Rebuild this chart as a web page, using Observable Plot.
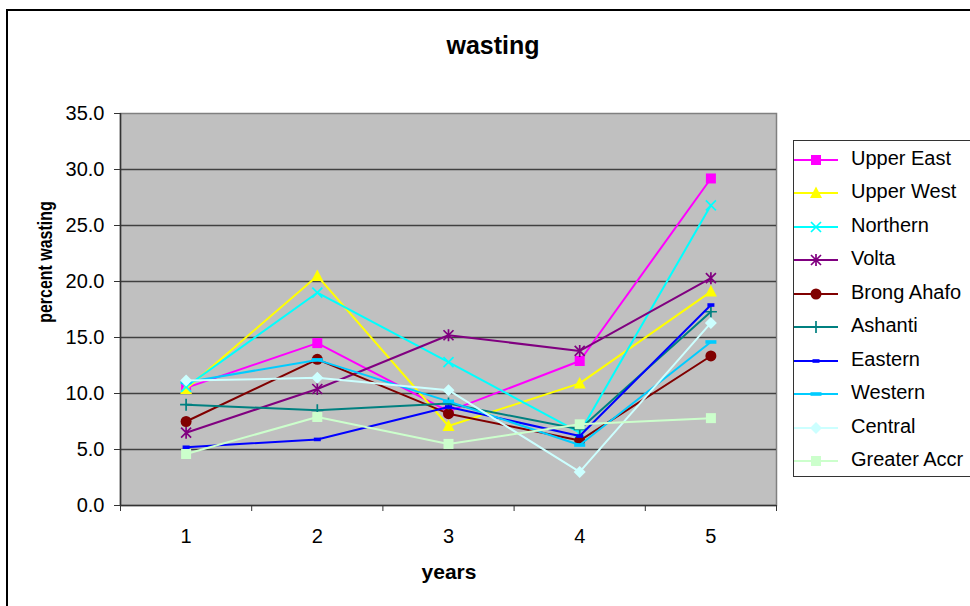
<!DOCTYPE html>
<html><head><meta charset="utf-8">
<script src="https://cdn.jsdelivr.net/npm/d3@7"></script>
<script src="https://cdn.jsdelivr.net/npm/@observablehq/plot@0.6"></script>
<style>
html,body{margin:0;padding:0;background:#fff;}
#chart{position:relative;width:970px;height:606px;overflow:hidden;background:#fff;font-family:Arial,"Liberation Sans",sans-serif;color:#000;}
#chart svg{position:absolute;left:0;top:0;}
.outer{position:absolute;left:6px;top:9px;width:1200px;height:1200px;border-left:2px solid #000;border-top:2px solid #000;box-sizing:border-box;}
.title{position:absolute;left:0;width:986px;top:33px;text-align:center;font-weight:bold;font-size:25px;line-height:25px;}
.xlabel{position:absolute;left:0;width:898px;top:561px;text-align:center;font-weight:bold;font-size:21px;line-height:21px;}
.ylabel{position:absolute;left:44px;top:262px;font-weight:bold;font-size:21px;line-height:21px;white-space:nowrap;transform:translate(-50%,-50%) rotate(-90deg) scaleX(0.76);}
.legend{position:absolute;left:793px;top:140px;width:300px;height:337px;border:1.5px solid #333;box-sizing:border-box;}
.lrow{position:absolute;left:0;height:24px;}
.lrow svg{position:absolute;left:8px;top:0;}
.lrow span{position:absolute;left:57px;top:-2px;font-size:20px;line-height:24px;white-space:nowrap;}
</style></head><body><div id="chart"></div>
<script>
// ---- data ----
const years = [1, 2, 3, 4, 5];
const seriesNames = ["Upper East", "Upper West", "Northern", "Volta", "Brong Ahafo", "Ashanti", "Eastern", "Western", "Central", "Greater Accr"];
const upperEast    = [10.5, 14.5, 8.4, 12.9, 29.2];
const upperWest    = [10.4, 20.5, 7.1, 10.9, 19.1];
const northern     = [10.6, 19.0, 12.8, 6.5, 26.8];
const volta        = [6.5, 10.4, 15.2, 13.8, 20.3];
const brongAhafo   = [7.5, 13.05, 8.2, 5.8, 13.35];
const ashanti      = [9.0, 8.5, 9.1, 6.8, 17.3];
const eastern      = [5.2, 5.9, 8.8, 6.2, 17.9];
const western      = [11.0, 13.0, 9.3, 5.4, 14.6];
const central      = [11.15, 11.4, 10.3, 3.0, 16.3];
const greaterAccra = [4.6, 7.9, 5.5, 7.25, 7.8];
const yTicks = [0, 5, 10, 15, 20, 25, 30, 35];
const xBounds = [0.5, 1.5, 2.5, 3.5, 4.5, 5.5];
const seriesValues = [upperEast, upperWest, northern, volta, brongAhafo, ashanti, eastern, western, central, greaterAccra];

// ---- styles ----
const colors = ["#ff00ff", "#ffff00", "#00ffff", "#800080", "#800000", "#008080", "#0000ff", "#00ccff", "#ccffff", "#ccffcc"];

function makeSym(fn) { return { draw(c, size) { const k = Math.sqrt(size / Math.PI) / 5; fn(c, k); } }; }
const poly = (c, pts) => { c.moveTo(pts[0][0], pts[0][1]); for (let i = 1; i < pts.length; i++) c.lineTo(pts[i][0], pts[i][1]); c.closePath(); };
const rectP = (c, x, y, w, h) => poly(c, [[x, y], [x + w, y], [x + w, y + h], [x, y + h]]);
const symSquare = makeSym((c, k) => rectP(c, -5 * k, -5 * k, 10 * k, 10 * k));
const symTriangle = makeSym((c, k) => poly(c, [[0, -6.5 * k], [6 * k, 5 * k], [-6 * k, 5 * k]]));
const symTimes = makeSym((c, k) => { const a = 5 * k; c.moveTo(-a, -a); c.lineTo(a, a); c.moveTo(a, -a); c.lineTo(-a, a); });
const symAsterisk = makeSym((c, k) => { const a = 5 * k; c.moveTo(-a, -a); c.lineTo(a, a); c.moveTo(a, -a); c.lineTo(-a, a); c.moveTo(0, -6 * k); c.lineTo(0, 6 * k); });
const symCircle = makeSym((c, k) => { const r = 5.5 * k; c.moveTo(r, 0); c.arc(0, 0, r, 0, 2 * Math.PI); });
const symPlus = makeSym((c, k) => { const a = 6 * k; c.moveTo(-a, 0); c.lineTo(a, 0); c.moveTo(0, -a); c.lineTo(0, a); });
const symDashSmall = makeSym((c, k) => rectP(c, -3.5 * k, -1.8 * k, 7 * k, 3.6 * k));
const symDashWide = makeSym((c, k) => rectP(c, -5.5 * k, -1.8 * k, 11 * k, 3.6 * k));
const symDiamond = makeSym((c, k) => poly(c, [[0, -6 * k], [6 * k, 0], [0, 6 * k], [-6 * k, 0]]));
const markers = [symSquare, symTriangle, symTimes, symAsterisk, symCircle, symPlus, symDashSmall, symDashWide, symDiamond, symSquare];
const filled = [true, true, false, false, true, false, true, true, true, true];

// ---- tidy rows ----
const rowsBySeries = seriesNames.map((name, i) => years.map((yr, j) => ({ series: name, year: yr, value: seriesValues[i][j] })));

const marks = [
  Plot.frame({ fill: "#c0c0c0", stroke: "#808080", strokeWidth: 1.5 }),
  Plot.ruleY(yTicks.slice(1, -1), { stroke: "#404040", strokeWidth: 1.4 }),
  Plot.ruleX([xBounds[0]], { stroke: "#333", strokeWidth: 1.5 }),
  Plot.ruleY([0], { stroke: "#333", strokeWidth: 1.5 }),
  Plot.axisY({ ticks: yTicks, tickFormat: d => d.toFixed(1), tickSize: 6, tickPadding: 10, fontSize: 20, label: null, stroke: "#333", fill: "#000" }),
  Plot.axisX({ ticks: xBounds, tickFormat: () => "", tickSize: 6, label: null, stroke: "#333" }),
  Plot.axisX({ ticks: years, tickFormat: d => String(d), tickSize: 0, tickPadding: 23, fontSize: 20, label: null, fill: "#000" })
];
rowsBySeries.forEach((rows, i) => {
  marks.push(Plot.line(rows, { x: "year", y: "value", stroke: colors[i], strokeWidth: 2 }));
  marks.push(Plot.dot(rows, {
    x: "year", y: "value", r: 5, symbol: markers[i],
    fill: filled[i] ? colors[i] : "none",
    stroke: filled[i] ? "none" : colors[i],
    strokeWidth: 1.7
  }));
});

const plot = Plot.plot({
  width: 970, height: 606,
  marginLeft: 120, marginRight: 194, marginTop: 113, marginBottom: 101,
  x: { type: "linear", domain: [0.5, 5.5] },
  y: { domain: [0, 35] },
  style: { fontFamily: 'Arial, "Liberation Sans", sans-serif', fontSize: "20px", color: "#000", background: "transparent", overflow: "visible" },
  marks
});

const chart = document.getElementById("chart");
chart.appendChild(plot);

const outer = document.createElement("div"); outer.className = "outer"; chart.appendChild(outer);
const title = document.createElement("div"); title.className = "title"; title.textContent = "wasting"; chart.appendChild(title);
const xl = document.createElement("div"); xl.className = "xlabel"; xl.textContent = "years"; chart.appendChild(xl);
const yl = document.createElement("div"); yl.className = "ylabel"; yl.textContent = "percent wasting"; chart.appendChild(yl);

const legend = document.createElement("div"); legend.className = "legend"; chart.appendChild(legend);
seriesNames.forEach((name, i) => {
  const row = document.createElement("div"); row.className = "lrow";
  row.style.top = (20 - 12 + 33.52 * i - 1.5) + "px";
  const p = d3.path(); markers[i].draw(p, 25 * Math.PI);
  const fill = filled[i] ? colors[i] : "none", stroke = filled[i] ? "none" : colors[i];
  row.innerHTML = `<svg width="46" height="24" viewBox="0 0 46 24"><line x1="0" y1="12" x2="44" y2="12" stroke="${colors[i]}" stroke-width="2"/><path transform="translate(22,12)" d="${p.toString()}" fill="${fill}" stroke="${stroke}" stroke-width="1.7"/></svg><span>${name}</span>`;
  legend.appendChild(row);
});
</script></body></html>
